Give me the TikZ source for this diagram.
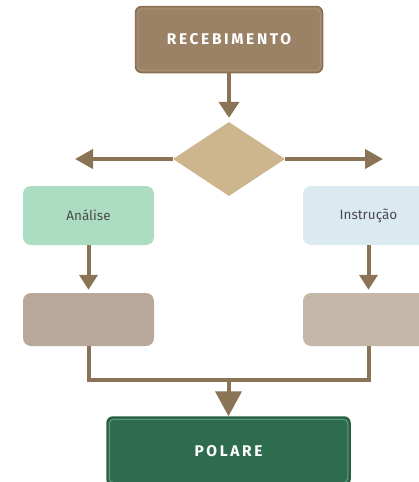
\documentclass[tikz,border=0pt]{standalone}
\usepackage{fontspec}
\setmainfont{Fira Sans}
\newfontfamily\titlefont[LetterSpace=17]{Fira Sans}
\usetikzlibrary{arrows.meta,shapes.geometric}
\definecolor{brownarrow}{HTML}{8B7355}
\definecolor{recfill}{HTML}{9B8266}
\definecolor{recedge}{HTML}{8A7156}
\definecolor{recinner}{HTML}{A99276}
\definecolor{diafill}{HTML}{CDB58E}
\definecolor{anafill}{HTML}{ACDDC3}
\definecolor{insfill}{HTML}{DBEAF1}
\definecolor{blfill}{HTML}{B7A899}
\definecolor{brfill}{HTML}{C5B8A9}
\definecolor{polfill}{HTML}{2E6B4F}
\definecolor{poledge}{HTML}{275C43}
\definecolor{polinner}{HTML}{5E9A79}
\definecolor{darktext}{HTML}{4A4A4A}
\tikzset{
  titlebox/.style={rounded corners=6pt, line width=1.5pt, inner sep=0pt, text=white,
    font=\titlefont\bfseries\fontsize{15.5}{17}\selectfont},
  softbox/.style={rounded corners=8pt, draw=none, inner sep=0pt,
    minimum width=131pt, text=darktext, font=\fontsize{13.5}{15}\selectfont},
  conn/.style={draw=brownarrow, line width=4pt, line join=miter},
  arrsmall/.style={conn, -{Triangle[length=15pt, width=18pt]}},
  arrside/.style={conn, -{Triangle[length=18pt, width=19pt]}},
  arrtop/.style={conn, -{Triangle[length=16pt, width=20pt]}},
  arrbig/.style={conn, -{Triangle[length=25pt, width=26pt]}},
}
\begin{document}
\begin{tikzpicture}[x=1pt, y=-1pt]
\useasboundingbox (0,0) rectangle (419,482);
\clip (0,0) rectangle (419,482);
% title box
\node[titlebox, fill=recfill, draw=recedge, minimum width=187pt, minimum height=66pt] (rec) at (229,39.5) {RECEBIMENTO};
\draw[recinner, line width=1pt, rounded corners=4.5pt]
  ([shift={(3pt,-3pt)}]rec.north west) rectangle ([shift={(-3pt,3pt)}]rec.south east);
% decision
\node[diamond, fill=diafill, draw=none, inner sep=0pt, minimum width=112pt, minimum height=74pt] (dia) at (229,159) {};
\coordinate (lt) at (75,159);
\coordinate (rt) at (383,159);
% branches
\node[softbox, fill=anafill, minimum height=59pt] (ana) at (88.5,215.5) {Análise};
\node[softbox, fill=insfill, minimum height=59pt] (ins) at (368.5,215.5) {Instrução};
\node[softbox, fill=blfill, minimum height=53pt] (bl) at (88.5,319.5) {};
\node[softbox, fill=brfill, minimum height=53pt] (br) at (368.5,319.5) {};
% final
\node[titlebox, fill=polfill, draw=poledge, minimum width=243pt, minimum height=68pt] (pol) at (228.5,451) {POLARE};
\draw[polinner, line width=1pt, rounded corners=4.5pt]
  ([shift={(3pt,-3pt)}]pol.north west) rectangle ([shift={(-3pt,3pt)}]pol.south east);
\coordinate (j) at (228.5,380);
% connectors
\draw[arrtop, shorten >=4pt] (rec.south) -- (dia.north);
\draw[arrside] (dia.west) -- (lt);
\draw[arrside] (dia.east) -- (rt);
\draw[arrsmall, shorten >=3pt] (ana.south) -- (bl.north);
\draw[arrsmall, shorten >=3pt] (ins.south) -- (br.north);
\draw[conn] (bl.south) |- (j) -| (br.south);
\draw[arrbig] (j) -- (pol.north);
\end{tikzpicture}
\end{document}
